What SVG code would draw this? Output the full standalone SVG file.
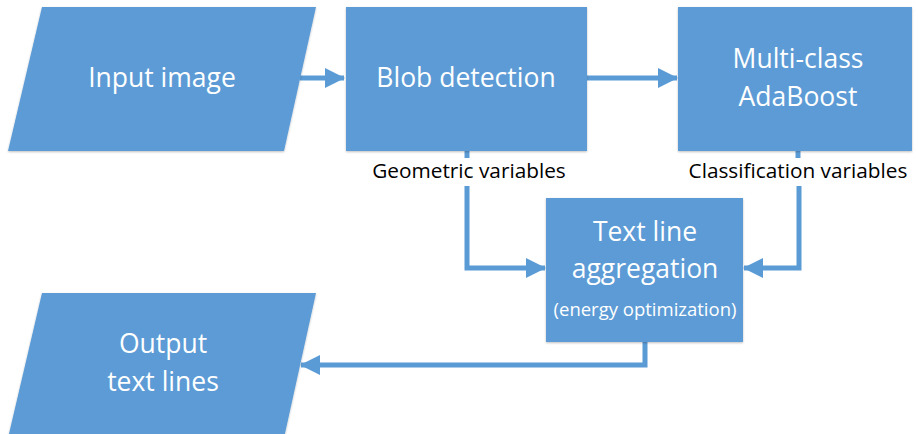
<svg xmlns="http://www.w3.org/2000/svg" width="918" height="434" viewBox="0 0 918 434">
<defs>
<marker id="ah" markerUnits="userSpaceOnUse" markerWidth="20" markerHeight="20" viewBox="0 0 20 20" refX="19" refY="10" orient="auto">
<path d="M0,0 L20,10 L0,20 Z" fill="#5B9BD5"/>
</marker>
<filter id="sh" x="-5%" y="-5%" width="110%" height="110%">
<feGaussianBlur in="SourceAlpha" stdDeviation="1.2"/>
<feOffset dx="0" dy="0.5"/>
<feComponentTransfer><feFuncA type="linear" slope="0.25"/></feComponentTransfer>
<feMerge><feMergeNode/><feMergeNode in="SourceGraphic"/></feMerge>
</filter>
</defs>
<style>
.n{fill:#5B9BD5;filter:url(#sh)}
.t{font-family:"Open Sans","Noto Sans",sans-serif;fill:#ffffff;font-size:26.5px;text-anchor:middle}
.s{font-size:18.5px}
.l{font-family:"Open Sans","Noto Sans",sans-serif;fill:#000000;font-size:20.8px;text-anchor:middle}
.c{fill:none;stroke:#5B9BD5;stroke-width:5}
</style>
<rect width="918" height="434" fill="#ffffff"/>
<g id="connectors">
<path class="c" d="M300,78 H344" marker-end="url(#ah)"/>
<path class="c" d="M587,78 H677" marker-end="url(#ah)"/>
<path class="c" d="M467,151 V158"/>
<path class="c" d="M467,186 V268 H545" marker-end="url(#ah)"/>
<path class="c" d="M798,151 V158"/>
<path class="c" d="M799,186 V268 H744" marker-end="url(#ah)"/>
<path class="c" d="M645,342 V365 H301" marker-end="url(#ah)"/>
</g>
<g id="input">
<polygon class="n" points="42,7 316,7 284,151 8,151"/>
<text class="t" x="162" y="87">Input image</text>
</g>
<g id="blob">
<rect class="n" x="346" y="7" width="241" height="144"/>
<text class="t" x="466" y="87">Blob detection</text>
</g>
<g id="adaboost">
<rect class="n" x="678" y="7" width="234" height="144"/>
<text class="t" x="798" y="68">Multi-class</text>
<text class="t" x="798" y="106">AdaBoost</text>
</g>
<g id="aggregation">
<rect class="n" x="546" y="198" width="197" height="144"/>
<text class="t" x="645" y="241">Text line</text>
<text class="t" x="645" y="278">aggregation</text>
<text class="t s" x="645" y="316">(energy optimization)</text>
</g>
<g id="output">
<polygon class="n" points="42,293 316,293 284,438 8,438"/>
<text class="t" x="163" y="353">Output</text>
<text class="t" x="163" y="391">text lines</text>
</g>
<g id="labels">
<text class="l" x="469" y="178">Geometric variables</text>
<text class="l" x="798" y="178">Classification variables</text>
</g>
</svg>
